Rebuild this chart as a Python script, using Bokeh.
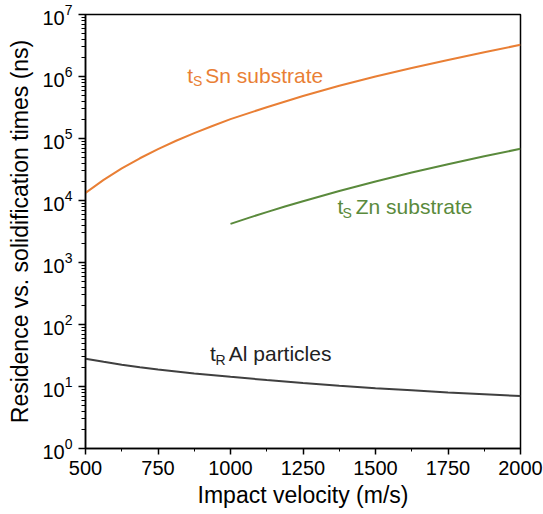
from bokeh.plotting import figure
from bokeh.models import SingleIntervalTicker, LogTicker, Range1d
from bokeh.core.properties import value
from bokeh.embed import file_html
from bokeh.resources import INLINE

# Data
v_sn = [500, 562.5, 625, 687.5, 750, 812.5, 875, 937.5, 1000, 1125, 1250, 1375, 1500, 1625, 1750, 1875, 2000]
t_sn = [1.33e4, 2.15e4, 3.3e4, 4.8e4, 6.75e4, 9.2e4, 1.22e5, 1.59e5, 2.05e5, 3.2e5, 4.85e5, 7.1e5, 1.0e6, 1.37e6, 1.85e6, 2.47e6, 3.24e6]

v_zn = [1000, 1062.5, 1125, 1187.5, 1250, 1375, 1500, 1625, 1750, 1875, 2000]
t_zn = [4.2e3, 5.25e3, 6.5e3, 8.0e3, 9.75e3, 1.42e4, 2.02e4, 2.82e4, 3.85e4, 5.18e4, 6.82e4]

v_al = [500, 562.5, 625, 687.5, 750, 875, 1000, 1125, 1250, 1375, 1500, 1625, 1750, 1875, 2000]
t_al = [28, 25, 22.5, 20.5, 18.8, 16.2, 14.3, 12.7, 11.4, 10.3, 9.4, 8.7, 8.0, 7.5, 7.0]

ORANGE = "#E97F35"
GREEN = "#5A8A3C"
GRAY = "#404040"
FONT = "Liberation Sans"

p = figure(width=543, height=514, y_axis_type="log",
           x_range=Range1d(500, 2000), y_range=Range1d(1, 1e7),
           output_backend="svg", toolbar_location=None,
           min_border_left=85, min_border_right=23, min_border_top=14, min_border_bottom=66)

p.line(v_sn, t_sn, line_color=ORANGE, line_width=2)
p.line(v_zn, t_zn, line_color=GREEN, line_width=2)
p.line(v_al, t_al, line_color=GRAY, line_width=2)

def label(x_main, y_main, x_sub, y_sub, x_rest, main, sub, rest, color):
    p.text(x=[x_main], y=[y_main], text=[main], text_color=color,
           text_font=value(FONT), text_font_size="21px",
           text_align="left", text_baseline="alphabetic")
    p.text(x=[x_sub], y=[y_sub], text=[sub], text_color=color,
           text_font=value(FONT), text_font_size="14px",
           text_align="left", text_baseline="alphabetic")
    p.text(x=[x_rest], y=[y_main], text=[rest], text_color=color,
           text_font=value(FONT), text_font_size="21px",
           text_align="left", text_baseline="alphabetic")

label(851, 10**6.02, 871, 10**5.92, 913, "t", "S", "Sn substrate", ORANGE)
label(1369, 10**3.90, 1386, 10**3.80, 1432, "t", "S", "Zn substrate", GREEN)
label(929, 10**1.53, 948, 10**1.42, 994, "t", "R", "Al particles", "#222222")

p.xaxis.ticker = SingleIntervalTicker(interval=250, num_minor_ticks=2)
p.yaxis.ticker = LogTicker(num_minor_ticks=10)

p.xgrid.visible = False
p.ygrid.visible = False

for ax in (p.xaxis, p.yaxis):
    ax.axis_line_color = "black"
    ax.axis_line_width = 1.5
    ax.major_tick_line_color = "black"
    ax.minor_tick_line_color = "black"
    ax.major_tick_line_width = 1.5
    ax.minor_tick_line_width = 1
    ax.major_tick_in = 0
    ax.minor_tick_in = 0
    ax.major_label_text_font = FONT
    ax.major_label_text_font_size = "20px"
    ax.major_label_text_color = "black"
    ax.axis_label_text_font = FONT
    ax.axis_label_text_font_size = "23px"
    ax.axis_label_text_font_style = "normal"
    ax.axis_label_text_color = "black"

p.xaxis.major_tick_out = 6
p.xaxis.minor_tick_out = 3
p.yaxis.major_tick_out = 7
p.yaxis.minor_tick_out = 4
p.xaxis.major_label_standoff = 6
p.yaxis.major_label_standoff = 6
p.xaxis.axis_label = "Impact velocity (m/s)"
p.yaxis.axis_label = "Residence vs. solidification times (ns)"
p.xaxis.axis_label_standoff = 4
p.yaxis.axis_label_standoff = 6

p.outline_line_color = "black"
p.outline_line_width = 1.5
p.outline_line_alpha = 1

open("out.html", "w").write(file_html(p, INLINE))
